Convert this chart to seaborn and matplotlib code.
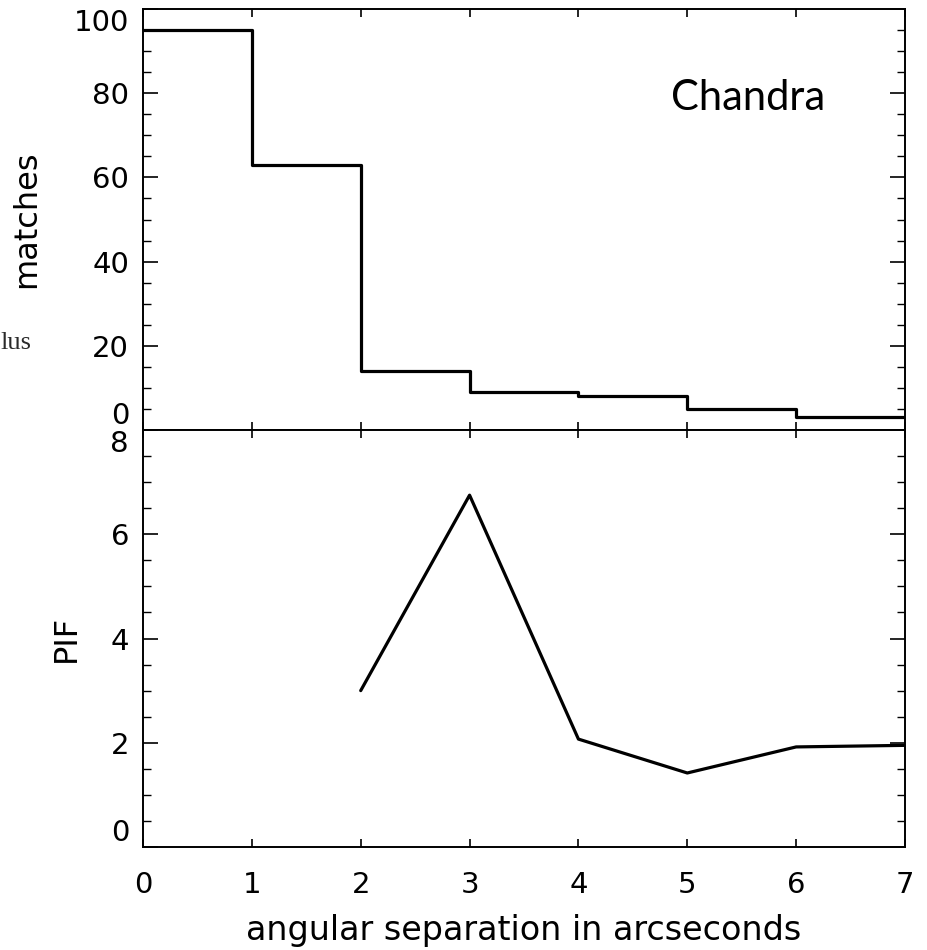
import numpy as np
import pandas as pd
import matplotlib
matplotlib.use("Agg")
import matplotlib.pyplot as plt
import seaborn as sns

# Data
bin_edges = [0, 1, 2, 3, 4, 5, 6, 7]
matches = [95, 63, 14, 9, 8, 5, 3]
pif_x = [2, 3, 4, 5, 6, 7]
pif_y = [3.0, 6.75, 2.07, 1.42, 1.92, 1.95]

sns.set_theme(style="ticks")
plt.rcParams["font.family"] = ["DejaVu Sans"]

W, H = 927, 950
fig = plt.figure(figsize=(W / 100, H / 100), dpi=100)

L, R = 143, 905
ax1 = fig.add_axes([L / W, 1 - 430 / H, (R - L) / W, 421 / H])
ax2 = fig.add_axes([L / W, 1 - 847 / H, (R - L) / W, 417 / H])

step_df = pd.DataFrame({"x": bin_edges, "y": matches + [matches[-1]]})
sns.lineplot(data=step_df, x="x", y="y", ax=ax1, drawstyle="steps-post",
             color="black", lw=2.3, estimator=None)
pif_df = pd.DataFrame({"x": pif_x, "y": pif_y})
sns.lineplot(data=pif_df, x="x", y="y", ax=ax2, color="black", lw=2.3,
             estimator=None)

for ax in (ax1, ax2):
    ax.set_xlim(0, 7)
    for s in ax.spines.values():
        s.set_visible(True)
        s.set_linewidth(1.4)
        s.set_color("black")
    ax.set_xticks(range(0, 8))
    ax.tick_params(axis="both", which="both", direction="in", top=True,
                   right=True, colors="black", labelsize=21)
    ax.tick_params(axis="x", which="major", length=6, width=1.2, pad=17)
    ax.tick_params(axis="y", which="major", length=11, width=1.2, pad=10)
    ax.tick_params(axis="y", which="minor", length=6, width=1.0)
    ax.set_xlabel("")

ax1.set_ylim(0, 100)
ax1.set_yticks(range(0, 101, 20))
ax1.set_yticks(np.arange(0, 101, 5), minor=True)
ax1.tick_params(axis="x", labelbottom=False)
ax1.set_ylabel("matches", fontsize=23, color="black")
ax1.yaxis.set_label_coords(-0.1325, 0.5)

ax2.set_ylim(0, 8)
ax2.set_yticks(range(0, 9, 2))
ax2.set_yticks(np.arange(0, 8.01, 0.5), minor=True)
ax2.set_ylabel("PIF", fontsize=23, color="black")
ax2.yaxis.set_label_coords(-0.080, 0.5)
ax2.set_xlabel("angular separation in arcseconds", fontsize=24,
               color="black", labelpad=11)

# IDL-like placement of the end tick labels
t1 = ax1.yaxis.get_major_ticks()
t1[0].label1.set_verticalalignment("bottom")
t1[-1].label1.set_verticalalignment("top")
t2 = ax2.yaxis.get_major_ticks()
t2[0].label1.set_verticalalignment("bottom")
t2[-1].label1.set_verticalalignment("top")

fig.text(748 / W, 1 - 110 / H, "Chandra", ha="center", va="baseline",
         fontsize=30, color="black", family=["Lato", "DejaVu Sans"])
fig.text(0.0, 1 - 349 / H, "lus", ha="left", va="baseline", fontsize=19,
         family=["Liberation Serif", "DejaVu Serif"], color="#2a2a2a")

fig.savefig("out.png", dpi=100)
